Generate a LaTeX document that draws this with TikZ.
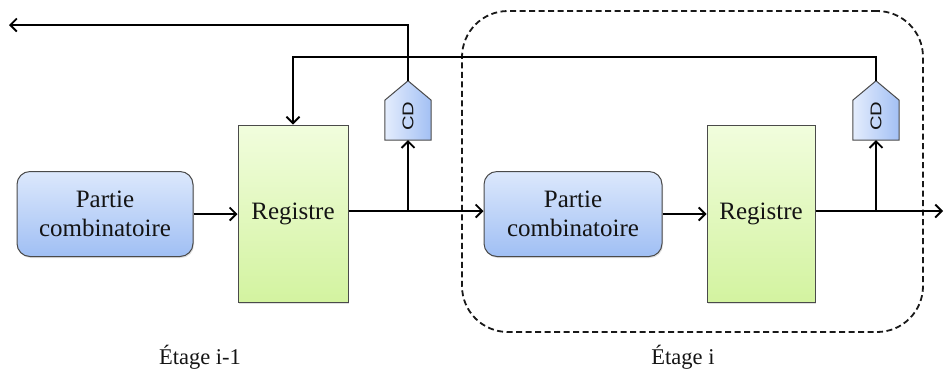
\documentclass[tikz,border=0pt]{standalone}
\usepackage{fontspec}
\setmainfont{Liberation Serif}
\newfontfamily\cdfont{Liberation Sans}
\usetikzlibrary{arrows.meta,calc,shadows}
\definecolor{combtop}{HTML}{DCE8FC}
\definecolor{combbot}{HTML}{A0BFF4}
\definecolor{regtop}{HTML}{F1FDDD}
\definecolor{regbot}{HTML}{D3F3A0}
\definecolor{cdl}{HTML}{E4EDFD}
\definecolor{cdr}{HTML}{A3C0F4}
\definecolor{edge}{HTML}{4A4A4A}
\begin{document}
\begin{tikzpicture}[x=1pt,y=-1pt,
  txt/.style={font=\fontsize{25}{28.5}\selectfont, align=center, text=black!92},
  comb/.style={txt, draw=edge, line width=1pt, rounded corners=13pt,
    top color=combtop, bottom color=combbot,
    minimum width=176pt, minimum height=85pt, inner sep=0pt,
    drop shadow={opacity=0.25, shadow xshift=1pt, shadow yshift=-1.5pt}},
  reg/.style={txt, draw=edge, line width=1pt,
    top color=regtop, bottom color=regbot,
    minimum width=110pt, minimum height=177pt, inner sep=0pt,
    drop shadow={opacity=0.25, shadow xshift=1pt, shadow yshift=-1.5pt}},
  cdbox/.style={minimum width=46pt, minimum height=59pt, inner sep=0pt},
  cdfill/.style={draw=edge, line width=1pt, left color=cdl, right color=cdr},
  cdtxt/.style={font=\cdfont\fontsize{15.5}{15.5}\selectfont, rotate=90, inner sep=0pt, text=black!92},
  stage/.style={draw=black!90, line width=1.8pt, dash pattern=on 6pt off 3.5pt,
    rounded corners=46pt, minimum width=461pt, minimum height=321pt},
  lbl/.style={font=\fontsize{22.5}{26}\selectfont, text=black!92},
  wire/.style={line width=1.8pt, draw=black},
  arr/.style={wire, -{Straight Barb[length=6.5pt,width=13pt,line width=1.8pt]}}]
\useasboundingbox (0,0) rectangle (944,376);

% stage frame
\node[stage] (st) at (692.5,171.5) {};

% blocks
\node[comb] (pc1) at (105,214) {Partie\\combinatoire};
\node[reg] (r1) at (293,213.5) {Registre};
\node[comb, minimum width=178pt] (pc2) at (573,214) {Partie\\combinatoire};
\node[reg, minimum width=108pt] (r2) at (761,213.5) {Registre};

% CD blocks
\node[cdbox] (cd1) at (408,110.5) {};
\node[cdbox] (cd2) at (876,110.5) {};
\path[cdfill] (cd1.south west) -- ++(0,-40) -- (cd1.north) -- ($(cd1.south east)+(0,-40)$) -- (cd1.south east) -- cycle;
\path[cdfill] (cd2.south west) -- ++(0,-40) -- (cd2.north) -- ($(cd2.south east)+(0,-40)$) -- (cd2.south east) -- cycle;
\node[cdtxt] (cdt1) at ($(cd1.south)+(0,-24)$) {\scalebox{1.3}[1]{CD}};
\node[cdtxt] (cdt2) at ($(cd2.south)+(0,-24)$) {\scalebox{1.3}[1]{CD}};

% coordinates
\coordinate (b1) at (408,211);
\coordinate (b2) at (876,211);
\coordinate (out) at (943,211);
\coordinate (tc1) at (408,25);
\coordinate (tl) at (9,25);
\coordinate (fbr) at (876,57);
\coordinate (fb) at (293,57);

% connectors
\draw[arr] (pc1.east) -- (pc1.east -| r1.west);
\draw[arr] (pc2.east) -- (pc2.east -| r2.west);
\draw[wire] (r1.east |- b1) -- (b1);
\draw[arr] (b1) -- (pc2.west |- b1);
\draw[arr] (b1) -- (cd1.south);
\draw[arr] (r2.east |- b2) -- (out);
\draw[arr] (b2) -- (cd2.south);
\draw[arr] (cd1.north) -- (tc1) -- (tl);
\draw[arr] (cd2.north) -- (fbr) -- (fb) -- (r1.north);

% labels
\node[lbl] (l1) at (200,357) {Étage i-1};
\node[lbl] (l2) at (683,357) {Étage i};
\end{tikzpicture}
\end{document}
